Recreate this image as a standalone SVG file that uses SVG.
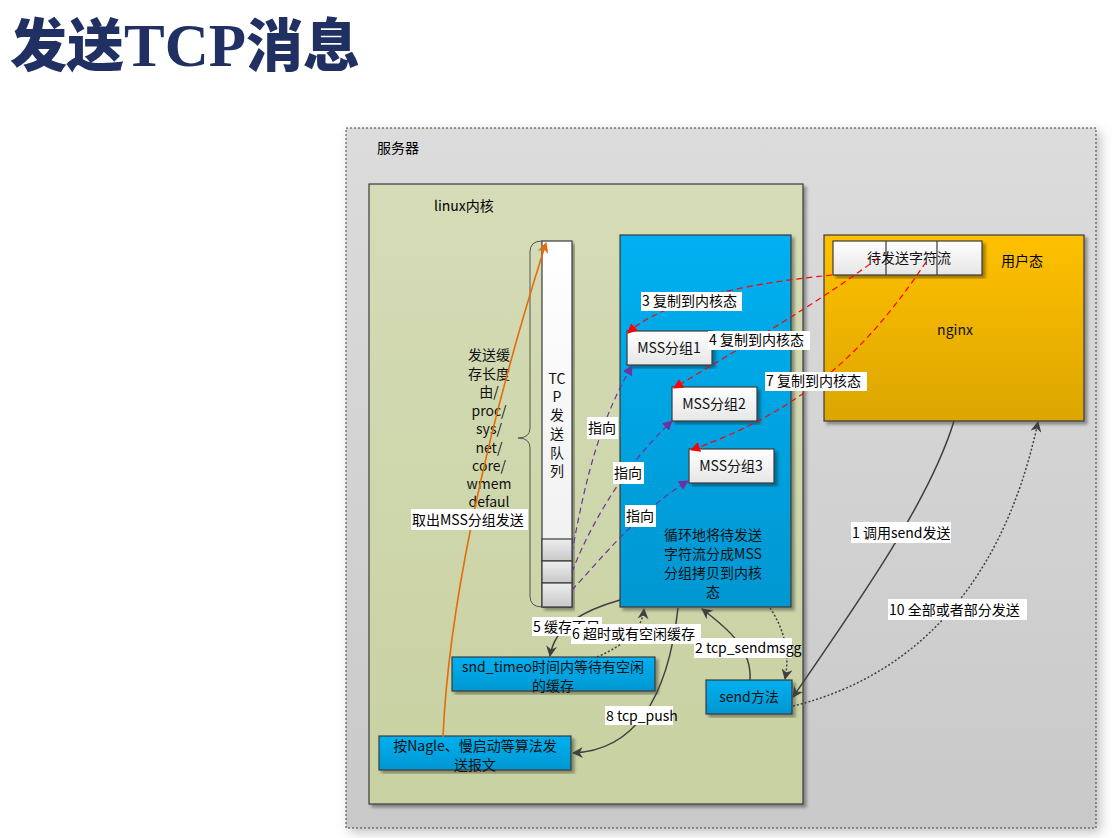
<svg xmlns="http://www.w3.org/2000/svg" width="1119" height="838" viewBox="0 0 1119 838">
<defs>
<linearGradient id="gServer" x1="0" y1="0" x2="0" y2="1"><stop offset="0" stop-color="#dcdcdc"/><stop offset="1" stop-color="#c9c9c9"/></linearGradient>
<linearGradient id="gKernel" x1="0" y1="0" x2="0" y2="1"><stop offset="0" stop-color="#d5dcb7"/><stop offset="1" stop-color="#c8d1a1"/></linearGradient>
<linearGradient id="gBlue" x1="0" y1="0" x2="0" y2="1"><stop offset="0" stop-color="#00b0f0"/><stop offset="1" stop-color="#0097d2"/></linearGradient>
<linearGradient id="gOrange" x1="0" y1="0" x2="0" y2="1"><stop offset="0" stop-color="#ffc000"/><stop offset="1" stop-color="#dca600"/></linearGradient>
<linearGradient id="gWhite" x1="0" y1="0" x2="0" y2="1"><stop offset="0" stop-color="#ffffff"/><stop offset="1" stop-color="#e6e6e6"/></linearGradient>
<linearGradient id="gQueue" x1="0" y1="0" x2="0" y2="1"><stop offset="0" stop-color="#ffffff"/><stop offset="1" stop-color="#eeeeee"/></linearGradient>
<linearGradient id="gCell" x1="0" y1="0" x2="0" y2="1"><stop offset="0" stop-color="#eeeeee"/><stop offset="1" stop-color="#c8c8c8"/></linearGradient>
<filter id="sh" x="-10%" y="-10%" width="120%" height="120%"><feDropShadow dx="3" dy="3" stdDeviation="1.5" flood-color="#000" flood-opacity="0.35"/></filter>
<filter id="shBig" x="-10%" y="-10%" width="120%" height="120%"><feDropShadow dx="4" dy="4" stdDeviation="6" flood-color="#000" flood-opacity="0.25"/></filter>
<marker id="aRed" viewBox="0 0 10 10" refX="9" refY="5" markerWidth="10" markerHeight="10" markerUnits="userSpaceOnUse" orient="auto"><path d="M0,0 L10,5 L0,10 Z" fill="#ff0000"/></marker>
<marker id="aPur" viewBox="0 0 10 10" refX="9" refY="5" markerWidth="10" markerHeight="10" markerUnits="userSpaceOnUse" orient="auto"><path d="M0,0 L10,5 L0,10 Z" fill="#7030a0"/></marker>
<marker id="aDk" viewBox="0 0 10 10" refX="9" refY="5" markerWidth="11" markerHeight="11" markerUnits="userSpaceOnUse" orient="auto"><path d="M0,0 L10,5 L0,10 L3,5 Z" fill="#404040"/></marker>
<marker id="aOr" viewBox="0 0 10 10" refX="9" refY="5" markerWidth="11" markerHeight="11" markerUnits="userSpaceOnUse" orient="auto"><path d="M0,0 L10,5 L0,10 L3,5 Z" fill="#e46c0a"/></marker>
</defs>
<style>
.t{font-family:"Noto Sans CJK SC","Liberation Sans",sans-serif;font-size:14px;fill:#000}
.tc{font-family:"Noto Sans CJK SC","Liberation Sans",sans-serif;font-size:14px;fill:#111;text-anchor:middle}
.box{stroke:#3a3a3a;stroke-width:1.2}
.lbl{fill:#ffffff}
.red{fill:none;stroke:#ff0000;stroke-width:1.2;stroke-dasharray:6,4;marker-end:url(#aRed)}
.pur{fill:none;stroke:#7030a0;stroke-width:1.2;stroke-dasharray:6,4;marker-end:url(#aPur)}
.dk{fill:none;stroke:#404040;stroke-width:1.5;marker-end:url(#aDk)}
.dot{fill:none;stroke:#404040;stroke-width:1.5;stroke-dasharray:2,2;marker-end:url(#aDk)}
</style>
<rect width="1119" height="838" fill="#ffffff"/>
<text x="10" y="66" style="font-family:'Noto Sans CJK SC',sans-serif;font-weight:900;font-size:57px;fill:#203062">发送<tspan style="font-family:'Liberation Serif',serif;font-weight:700;font-size:61px">TCP</tspan>消息</text>

<g id="server">
<rect x="346" y="128" width="750" height="700" fill="url(#gServer)" stroke="#404040" stroke-width="1" stroke-dasharray="2,2" filter="url(#shBig)"/>
<text class="t" x="377" y="153" fill="#222">服务器</text>
</g>

<g id="kernel">
<rect x="369" y="184" width="434" height="620" fill="url(#gKernel)" class="box" filter="url(#sh)"/>
<text class="t" x="434" y="211">linux内核</text>
</g>

<g id="tcp-queue">
<path d="M542,241 Q530,241 530,252 L530,428 Q530,438 518,438 Q530,438 530,448 L530,596 Q530,607 542,607" fill="none" stroke="#555" stroke-width="1"/>
<rect x="542" y="241" width="30" height="366" fill="url(#gQueue)" class="box" filter="url(#sh)"/>
<rect x="542" y="539" width="30" height="22" fill="url(#gCell)" class="box"/>
<rect x="542" y="561" width="30" height="22" fill="url(#gCell)" class="box"/>
<rect x="542" y="583" width="30" height="24" fill="url(#gCell)" class="box"/>
<text class="tc" x="557" y="384">TC</text>
<text class="tc" x="557" y="402">P</text>
<text class="tc" x="557" y="420">发</text>
<text class="tc" x="557" y="439">送</text>
<text class="tc" x="557" y="458">队</text>
<text class="tc" x="557" y="476">列</text>
</g>

<g id="buffer-note">
<text class="tc" x="489" y="360">发送缓</text>
<text class="tc" x="489" y="379">存长度</text>
<text class="tc" x="489" y="397">由/</text>
<text class="tc" x="489" y="416">proc/</text>
<text class="tc" x="489" y="434">sys/</text>
<text class="tc" x="489" y="453">net/</text>
<text class="tc" x="489" y="471">core/</text>
<text class="tc" x="489" y="489">wmem</text>
<text class="tc" x="489" y="507">defaul</text>
</g>

<g id="loop-box">
<rect x="620" y="235" width="171" height="372" fill="url(#gBlue)" class="box" filter="url(#sh)"/>
<text class="tc" x="713" y="540">循环地将待发送</text>
<text class="tc" x="713" y="559">字符流分成MSS</text>
<text class="tc" x="713" y="578">分组拷贝到内核</text>
<text class="tc" x="713" y="597">态</text>
</g>

<g id="mss1"><rect x="627" y="331" width="85" height="34" fill="url(#gWhite)" class="box" filter="url(#sh)"/><text class="tc" x="669" y="353">MSS分组1</text></g>
<g id="mss2"><rect x="672" y="387" width="85" height="34" fill="url(#gWhite)" class="box" filter="url(#sh)"/><text class="tc" x="714" y="409">MSS分组2</text></g>
<g id="mss3"><rect x="689" y="449" width="85" height="34" fill="url(#gWhite)" class="box" filter="url(#sh)"/><text class="tc" x="731" y="471">MSS分组3</text></g>

<g id="user">
<rect x="824" y="235" width="260" height="186" fill="url(#gOrange)" class="box" filter="url(#sh)"/>
<text class="t" x="1001" y="266">用户态</text>
<text class="tc" x="955" y="335">nginx</text>
</g>

<g id="stream">
<rect x="833" y="241" width="149" height="34" fill="url(#gWhite)" class="box" filter="url(#sh)"/>
<line x1="886" y1="241" x2="886" y2="275" stroke="#3a3a3a" stroke-width="1.2"/>
<line x1="937" y1="241" x2="937" y2="275" stroke="#3a3a3a" stroke-width="1.2"/>
<text class="tc" x="909" y="263">待发送字符流</text>
</g>

<g id="snd-timeo"><rect x="452" y="657" width="203" height="34" fill="url(#gBlue)" class="box" filter="url(#sh)"/><text class="tc" x="553" y="672">snd_timeo时间内等待有空闲</text><text class="tc" x="553" y="691">的缓存</text></g>
<g id="nagle"><rect x="379" y="736" width="192" height="34" fill="url(#gBlue)" class="box" filter="url(#sh)"/><text class="tc" x="475" y="751">按Nagle、慢启动等算法发</text><text class="tc" x="475" y="770">送报文</text></g>
<g id="send"><rect x="706" y="680" width="86" height="34" fill="url(#gBlue)" class="box" filter="url(#sh)"/><text class="tc" x="749" y="702">send方法</text></g>

<g id="connectors">
<path class="red" d="M832,275 C760,282 665,298 628,333"/>
<path class="red" d="M878,258 C820,302 740,348 674,388"/>
<path class="red" d="M926,262 C880,330 820,405 691,450"/>
<path class="pur" d="M572,553 C585,480 600,420 632,366"/>
<path class="pur" d="M572,572 C592,520 628,462 672,421"/>
<path class="pur" d="M572,590 C600,560 640,510 688,481"/>
<path d="M443,737 C448,620 480,450 546,243" fill="none" stroke="#e46c0a" stroke-width="1.6" marker-end="url(#aOr)"/>
<path class="dk" d="M620,600 C585,610 555,625 550,656"/>
<path class="dot" d="M597,657 C625,645 642,630 644,609"/>
<path class="dk" d="M750,680 C752,650 730,630 702,609"/>
<path class="dot" d="M770,608 C785,630 790,655 785,679"/>
<path class="dk" d="M678,608 C670,680 645,750 573,753"/>
<path class="dk" d="M954,421 C930,500 860,600 793,697"/>
<path class="dot" d="M793,706 C900,680 1000,600 1038,422"/>

<rect class="lbl" x="641" y="292" width="101" height="19"/><text class="t" x="642" y="306">3 复制到内核态</text>
<rect class="lbl" x="708" y="331" width="102" height="19"/><text class="t" x="709" y="345">4 复制到内核态</text>
<rect class="lbl" x="765" y="372" width="102" height="19"/><text class="t" x="766" y="386">7 复制到内核态</text>
<rect class="lbl" x="587" y="417" width="31" height="22"/><text class="t" x="588" y="433">指向</text>
<rect class="lbl" x="613" y="462" width="31" height="22"/><text class="t" x="614" y="478">指向</text>
<rect class="lbl" x="625" y="505" width="31" height="22"/><text class="t" x="626" y="521">指向</text>
<rect class="lbl" x="411" y="509" width="117" height="21"/><text class="t" x="412" y="525">取出MSS分组发送</text>
<rect class="lbl" x="532" y="617" width="70" height="19"/><text class="t" x="533" y="632">5 缓存不足</text>
<rect class="lbl" x="571" y="624" width="130" height="20"/><text class="t" x="572" y="639">6 超时或有空闲缓存</text>
<rect class="lbl" x="694" y="638" width="98" height="20"/><text class="t" x="695" y="653">2 tcp_sendmsgg</text>
<rect class="lbl" x="605" y="706" width="68" height="19"/><text class="t" x="606" y="721">8 tcp_push</text>
<rect class="lbl" x="851" y="522" width="100" height="21"/><text class="t" x="852" y="538">1 调用send发送</text>
<rect class="lbl" x="888" y="599" width="139" height="21"/><text class="t" x="889" y="615">10 全部或者部分发送</text>
</g>
</svg>
